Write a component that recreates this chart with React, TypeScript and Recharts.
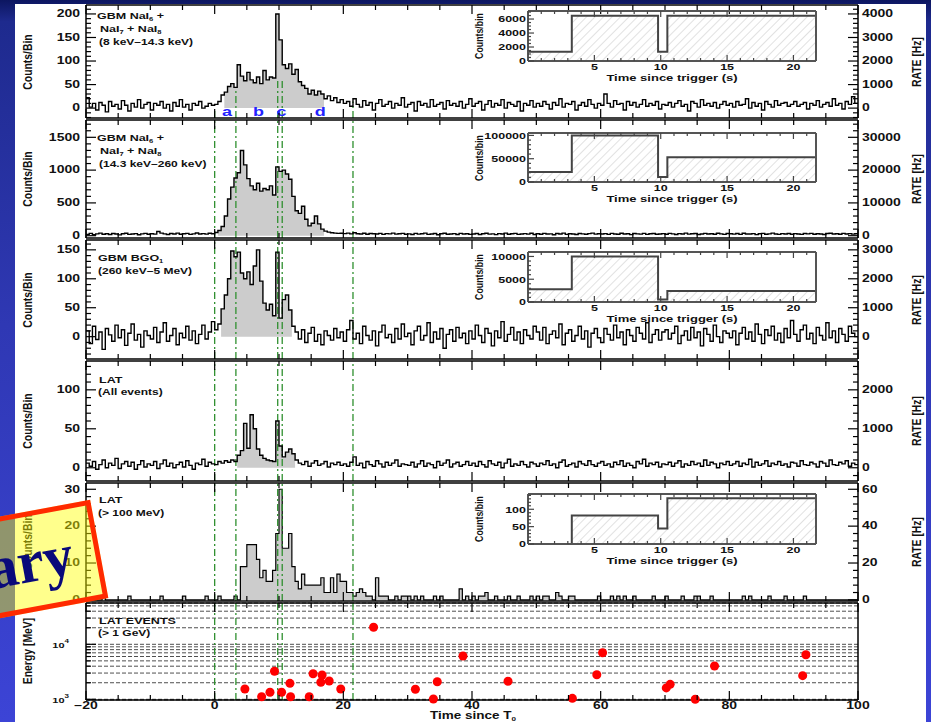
import React from "react";
import {
  ComposedChart,
  ScatterChart,
  Line,
  Area,
  Scatter,
  XAxis,
  YAxis,
  ReferenceLine,
  ReferenceDot,
  CartesianGrid,
} from "recharts";

const FONT = '"Liberation Sans", Arial, Helvetica, sans-serif';
const W = 931;
const PLOT_L = 86;
const PLOT_R = 858;
const FRAME = { stroke: "#000", strokeWidth: 1.5 };

function range(a: number, b: number, step: number) {
  const out: number[] = [];
  for (let k = 0; a + k * step <= b + 1e-9; k++) out.push(+(a + k * step).toFixed(6));
  return out;
}

// time axis (s since trigger)
const T_START = -20;
const T_END = 100;
const BIN = 0.5;
const X_LABELS = [-20, 0, 20, 40, 60, 80, 100];
const X_TICKS = range(-20, 100, 5);

// interval boundaries a..d
const PHASE_EDGES = [0, 3.3, 9.8, 10.5, 21.5];
const PHASE_NAMES = ["a", "b", "c", "d"];
const PHASE_LABEL_T = [1.9, 6.8, 10.4, 16.4];
const PHASE_REACH_P1 = [0, 40, 60, 60, 14];

// counts per 0.5 s bin, -20 s .. 100 s, one row = 10 s
const naiLowCounts = [
  22, 2, 10, -4, 12, 6, -8, 14, 4, 8, -2, 16, 6, -6, 10, 2, 18, 0, 8, 12,
  -4, 10, 6, 14, 0, 8, -6, 12, 4, 18, 2, 8, -4, 10, 6, 14, 0, 4, 10, 6,
  8, 14, 28, 34, 46, 52, 44, 92, 68, 58, 76, 60, 54, 66, 52, 80, 60, 66, 64, 200,
  145, 92, 84, 94, 72, 82, 56, 48, 42, 30, 38, 28, 36, 30, 20, 26, 16, 22, 12, 18,
  10, 14, 4, 20, 8, 2, 16, 6, 12, -4, 10, 18, 4, 8, 14, 0, 10, 6, 22, 2,
  8, 12, -6, 14, 6, 10, 2, 18, 4, 8, 12, -2, 16, 6, 10, 4, 14, 0, 8, 20,
  4, 10, 14, -4, 8, 16, 2, 10, 6, 18, 0, 12, 8, 4, 14, -6, 10, 6, 16, 2,
  10, 4, 14, 8, -2, 12, 6, 20, 2, 10, 8, 14, -4, 6, 12, 4, 18, 8, 0, 10,
  6, 30, 10, 2, 16, 8, 10, -4, 14, 6, 12, 2, 8, 18, 4, 10, 6, 14, -2, 8,
  6, 12, 2, 10, 16, 4, 8, -6, 14, 10, 2, 18, 6, 10, 4, 12, 0, 8, 14, 6,
  10, 2, 14, 6, 8, 20, 0, 12, 4, 10, -4, 14, 8, 2, 16, 6, 10, 12, 4, 8,
  14, 4, 8, 12, -2, 10, 6, 16, 2, 8, 12, 4, 20, 6, 10, -2, 14, 8, 24, 10,
];

const naiHighCounts = [
  20, 35, 15, 28, 40, 22, 30, 18, 34, 25, 12, 30, 38, 20, 26, 32, 15, 28, 36, 22,
  30, 24, 65, 40, 28, 18, 34, 26, 40, 22, 30, 36, 20, 28, 42, 26, 32, 24, 38, 30,
  50, 80, 140, 300, 560, 740, 880, 960, 1300, 1080, 870, 760, 700, 800, 680, 720, 700, 760, 620, 1050,
  980, 1000, 940, 860, 600, 380, 340, 450, 250, 150, 190, 300, 180, 100, 70, 55, 45, 40, 35, 38,
  32, 40, 28, 45, 30, 26, 38, 22, 34, 30, 25, 36, 20, 32, 28, 40, 24, 30, 35, 22,
  28, 18, 35, 24, 30, 40, 20, 26, 33, 15, 29, 37, 22, 27, 31, 19, 36, 25, 30, 21,
  26, 34, 18, 30, 38, 24, 28, 16, 32, 27, 40, 22, 29, 35, 20, 26, 31, 24, 37, 19,
  30, 22, 36, 25, 28, 14, 33, 27, 39, 21, 30, 26, 18, 34, 28, 23, 32, 40, 24, 29,
  25, 31, 20, 35, 27, 22, 38, 26, 30, 17, 33, 28, 24, 36, 21, 29, 34, 23, 27, 31,
  22, 36, 28, 19, 32, 26, 40, 24, 29, 33, 18, 27, 35, 25, 30, 22, 38, 28, 20, 34,
  29, 24, 33, 21, 37, 27, 25, 31, 16, 30, 35, 23, 28, 39, 26, 20, 32, 27, 34, 22,
  31, 26, 20, 34, 28, 36, 23, 30, 27, 19, 33, 38, 25, 29, 22, 35, 26, 31, 24, 30,
];

const bgoCounts = [
  10, -12, 18, -5, 8, -22, 14, 3, -8, 20, -2, 12, -15, 6, 22, -6, 4, -18, 10, 2,
  -4, 16, -10, 8, 24, -8, 2, 14, -14, 6, -2, 18, -6, 10, -12, 4, 20, -4, 8, 26,
  12, 22, 48, 72, 100, 148, 138, 146, 110, 100, 112, 90, 122, 150, 96, 58, 46, 56, 36, 146,
  32, 64, 72, 46, 18, 8, -4, 12, -10, 6, 16, -8, 4, -14, 10, 2, -6, 14, -2, 8,
  -8, 12, 28, -4, 6, -12, 18, 2, -6, 10, -16, 8, 20, -2, 4, -10, 14, -4, 22, 0,
  6, -14, 10, 18, -6, 2, 24, -10, 8, -4, 14, -20, 4, 12, -8, 16, -2, 6, -12, 10,
  -4, 20, 2, -10, 14, 6, -16, 10, -2, 26, -8, 4, 16, -6, 8, -12, 12, 2, -4, 18,
  8, -6, 16, -12, 4, 10, -2, 22, -14, 6, 12, -8, 2, 18, -4, 10, -18, 6, 14, -2,
  -10, 14, 4, -6, 20, -2, 8, -14, 12, 2, -8, 16, 6, -4, 24, -10, 4, 12, -6, 8,
  12, -4, 6, 18, -12, 2, 10, -6, 16, -2, 8, -16, 14, 4, -8, 20, 0, -10, 10, 6,
  -2, 10, -14, 6, 16, -4, 8, -8, 22, 4, -12, 12, 2, 18, -6, 6, -10, 14, -2, 28,
  4, -8, 12, 20, -4, 6, -12, 16, 2, -6, 24, -2, 10, -10, 14, 4, -8, 18, 6, 0,
];

const latAllCounts = [
  6, 2, 8, -2, 4, 10, 0, 6, 3, 12, -1, 5, 8, 2, 7, -2, 4, 9, 1, 5,
  3, 8, -1, 5, 10, 2, 6, 0, 4, 7, 1, 9, 3, -2, 6, 4, 11, 2, 7, 5,
  4, 8, 6, 9, 7, 10, 8, 16, 22, 57, 25, 68, 50, 24, 16, 12, 10, 9, 8, 60,
  28, 14, 20, 24, 18, 10, 6, 4, 8, 2, 6, 9, 3, 5, 8, 1, 6, 4, 7, 3,
  5, 2, 7, 14, 3, 6, 0, 8, 4, 2, 9, 5, 1, 7, 3, 6, 10, 2, 5, 4,
  3, 7, 1, 5, 9, 2, 6, 4, 0, 8, 3, 6, 10, 1, 5, 7, 2, 4, 8, 3,
  6, 2, 8, 4, 1, 9, 5, 3, 7, 0, 6, 11, 2, 5, 3, 8, 4, 1, 7, 5,
  2, 6, 4, 9, 3, 5, 0, 7, 10, 2, 4, 6, 1, 8, 5, 3, 9, 4, 2, 6,
  8, 3, 5, 1, 7, 4, 9, 2, 6, 3, 0, 8, 5, 11, 2, 6, 4, 7, 1, 5,
  4, 7, 2, 6, 9, 1, 5, 3, 8, 4, 6, 2, 10, 3, 7, 5, 0, 6, 4, 8,
  3, 5, 8, 2, 6, 4, 11, 1, 7, 3, 5, 9, 2, 6, 4, 8, 3, 5, 1, 7,
  6, 2, 9, 4, 3, 7, 5, 1, 8, 6, 2, 10, 4, 3, 7, 5, 9, 2, 6, 4,
];

const lat100Counts = [
  0, 0, 0, 0, 0, 1, 0, 0, 0, 0, 0, 0, 0, 1, 0, 0, 0, 0, 0, 0,
  0, 0, 0, 1, 0, 0, 0, 0, 0, 0, 1, 0, 0, 0, 0, 0, 0, 1, 0, 0,
  0, 1, 0, 0, 0, 0, 1, 0, 9, 9, 15, 15, 15, 11, 6, 8, 5, 5, 8, 18,
  30, 14, 14, 18, 9, 5, 3, 7, 4, 4, 4, 4, 4, 6, 2, 2, 6, 2, 7, 5,
  5, 2, 2, 1, 2, 3, 2, 1, 1, 0, 6, 1, 1, 1, 0, 0, 1, 0, 1, 1,
  1, 0, 1, 0, 1, 0, 0, 0, 1, 0, 1, 0, 0, 0, 0, 0, 3, 0, 1, 0,
  1, 0, 1, 1, 2, 0, 0, 1, 0, 0, 0, 1, 0, 0, 1, 0, 0, 0, 1, 0,
  1, 0, 1, 1, 0, 0, 2, 1, 0, 0, 1, 1, 0, 0, 0, 0, 0, 0, 0, 1,
  0, 0, 0, 1, 0, 1, 0, 1, 0, 0, 1, 0, 0, 0, 0, 0, 1, 0, 0, 0,
  1, 0, 0, 0, 0, 1, 0, 0, 0, 1, 1, 0, 0, 0, 1, 0, 0, 0, 0, 0,
  0, 0, 0, 0, 1, 0, 1, 0, 0, 0, 0, 0, 1, 0, 0, 0, 0, 1, 0, 0,
  0, 0, 0, 1, 0, 0, 0, 0, 0, 0, 0, 0, 0, 0, 0, 0, 0, 0, 0, 0,
];

// LAT events above 1 GeV
const eventTimes = [4.7, 7.3, 8.6, 9.3, 10.4, 11.7, 11.8, 14.7, 15.3, 16.7, 16.5, 17.8, 19.6, 24.7, 31.2, 34.0, 34.6, 38.6, 45.6, 55.6, 59.4, 60.3, 70.2, 70.8, 74.7, 77.7, 91.4, 91.9];
const eventEnergies = [1540, 1115, 1340, 3230, 1340, 1950, 1115, 1115, 2920, 2770, 2040, 2150, 1540, 20400, 1520, 1010, 2090, 6130, 2130, 1040, 2800, 7030, 1610, 1870, 1000, 4030, 2690, 6460];
const E_DOMAIN = [971, 56400];
const E_TICKS = [1000, 2000, 3000, 4000, 5000, 6000, 7000, 8000, 9000, 10000, 20000, 30000, 40000, 50000];

// insets: counts per interval
const INSET_EDGES = [0, 3.3, 9.8, 10.5, 21.7];
const insetNaiLow = [1330, 6470, 1330, 6470, 6470];
const insetNaiHigh = [21700, 100000, 10900, 53000, 53000];
const insetBgo = [2820, 10000, 530, 2440, 2440];
const insetLat100 = [0, 82, 45, 132, 132];

type Side = "left" | "right" | "top" | "bottom";
type TickOpts = { fmt?: (v: number) => React.ReactNode; size?: number; gap?: number; stroke?: string; sw?: number };

function makeTick(side: Side, majors: number[], majLen: number, minLen: number, o: TickOpts = {}) {
  const { fmt, size = 14, gap = 6, stroke = "#000", sw = 1.2 } = o;
  return (p: any) => {
    const x = Number(p.x);
    const y = Number(p.y);
    const v = Number(p.payload && p.payload.value);
    const major = majors.some((m) => Math.abs(m - v) < 1e-6);
    const len = major ? majLen : minLen;
    const x2 = side === "left" ? x + len : side === "right" ? x - len : x;
    const y2 = side === "top" ? y + len : side === "bottom" ? y - len : y;
    let tx = x;
    let ty = y;
    let anchor: any = "middle";
    if (side === "left") { tx = x - gap; anchor = "end"; }
    if (side === "right") { tx = x + gap; anchor = "start"; }
    if (side === "bottom") ty = y + gap;
    if (side === "top") ty = y - gap;
    return (
      <g>
        {len > 0 && <line x1={x} y1={y} x2={x2} y2={y2} stroke={stroke} strokeWidth={sw} />}
        {major && fmt && (
          <text
            transform={`translate(${tx},${ty}) scale(1,0.72)`}
            textAnchor={anchor}
            dominantBaseline="central"
            fontFamily={FONT}
            fontWeight="bold"
            fontSize={size}
            fill="#111"
          >
            {fmt(v)}
          </text>
        )}
      </g>
    );
  };
}

const fmtPlain = (v: number) => String(v);
const fmtTime = (v: number) => (v < 0 ? `\u2212${-v}` : String(v));
const fmtPow = (v: number) => (
  <>
    <tspan>10</tspan>
    <tspan dy={-5} fontSize={8}>{Math.round(Math.log10(v))}</tspan>
  </>
);

// axes are 1px thick boxes; the margins below make up for it
const AX = 1;

type PanelSpec = {
  top: number;
  bottom: number;
  counts: number[];
  yDomain: number[];
  yLabels: number[];
  yTicks: number[];
  rateFactor: number;
  rLabels: number[];
  rTicks: number[];
  fillFrom?: number;
  fillTo?: number;
  histogram?: boolean;
  firstPanel?: boolean;
};

function CurvePanel({ spec }: { spec: PanelSpec }) {
  const padT = 14;
  const padB = 14;
  const rows: any[] = spec.counts.map((v, i) => {
    const t = T_START + i * BIN;
    const inFill = spec.fillFrom !== undefined && t >= spec.fillFrom && t < (spec.fillTo as number);
    return { t, v, f: inFill ? v : null };
  });
  rows.push({ t: T_END, v: spec.counts[spec.counts.length - 1], f: null });
  if (spec.fillTo !== undefined) {
    const k = Math.round((spec.fillTo - T_START) / BIN);
    rows[k].f = spec.counts[k - 1];
  }
  const rDomain = [spec.yDomain[0] * spec.rateFactor, spec.yDomain[1] * spec.rateFactor];
  const green = { stroke: "#2f8f2f", strokeWidth: 1.3, strokeDasharray: "7 3 2 3" };

  return (
    <div style={{ position: "absolute", left: 0, top: spec.top - padT }}>
      <ComposedChart
        width={W}
        height={spec.bottom - spec.top + padT + padB}
        data={rows}
        margin={{ top: padT - AX, bottom: padB - AX, left: PLOT_L - AX, right: W - PLOT_R - AX }}
      >
        <XAxis dataKey="t" type="number" domain={[T_START, T_END]} allowDataOverflow ticks={X_TICKS} interval={0}
          height={AX} tickSize={0} tickMargin={0} tickLine={false} axisLine={FRAME} tick={makeTick("bottom", X_LABELS, 9, 5)} />
        <XAxis xAxisId="top" orientation="top" dataKey="t" type="number" domain={[T_START, T_END]} allowDataOverflow
          ticks={X_TICKS} interval={0} height={AX} tickSize={0} tickMargin={0} tickLine={false} axisLine={FRAME}
          tick={makeTick("top", X_LABELS, 9, 5)} />
        <YAxis type="number" domain={spec.yDomain} allowDataOverflow ticks={spec.yTicks} interval={0} width={AX}
          tickSize={0} tickMargin={0} tickLine={false} axisLine={FRAME}
          tick={makeTick("left", spec.yLabels, 10, 5, { fmt: fmtPlain, gap: 6 })} />
        <YAxis yAxisId="rate" orientation="right" type="number" domain={rDomain} allowDataOverflow ticks={spec.rTicks}
          interval={0} width={AX} tickSize={0} tickMargin={0} tickLine={false} axisLine={FRAME}
          tick={makeTick("right", spec.rLabels, 10, 5, { fmt: fmtPlain, gap: 4 })} />
        {spec.histogram ? (
          <Area type="stepAfter" dataKey="v" stroke="#000" strokeWidth={1.2} fill="#cccccc" fillOpacity={1}
            isAnimationActive={false} />
        ) : (
          <Area type="stepAfter" dataKey="f" stroke="none" fill="#cccccc" fillOpacity={1} isAnimationActive={false} />
        )}
        {PHASE_EDGES.map((t, i) =>
          spec.firstPanel ? (
            <ReferenceLine key={i} segment={[{ x: t, y: spec.yDomain[0] }, { x: t, y: PHASE_REACH_P1[i] }]} {...green} />
          ) : (
            <ReferenceLine key={i} x={t} {...green} />
          )
        )}
        {!spec.histogram && (
          <Line type="stepAfter" dataKey="v" stroke="#000" strokeWidth={1.4} dot={false} isAnimationActive={false} />
        )}
        <Line xAxisId="top" yAxisId="rate" dataKey="v" stroke="none" dot={false} activeDot={false} isAnimationActive={false} />
        {spec.firstPanel &&
          PHASE_NAMES.map((n, i) => (
            <ReferenceDot key={n} x={PHASE_LABEL_T[i]} y={-7.5} r={0} fill="none" stroke="none"
              label={(p: any) => (
                <text transform={`translate(${p.viewBox.x},${p.viewBox.y}) scale(1,0.72)`} textAnchor="middle"
                  dominantBaseline="central" fontFamily={FONT} fontWeight="bold" fontSize={18} fill="#2323ff">
                  {n}
                </text>
              )}
            />
          ))}
      </ComposedChart>
    </div>
  );
}

function EventsPanel() {
  const top = 603;
  const bottom = 700;
  const padT = 14;
  const padB = 22;
  const events = eventTimes.map((t, i) => ({ t, e: eventEnergies[i] }));
  const green = { stroke: "#2f8f2f", strokeWidth: 1.3, strokeDasharray: "7 3 2 3" };
  return (
    <div style={{ position: "absolute", left: 0, top: top - padT }}>
      <ScatterChart width={W} height={bottom - top + padT + padB}
        margin={{ top: padT - AX, bottom: padB - AX, left: PLOT_L - AX, right: W - PLOT_R - AX }}>
        <CartesianGrid horizontal vertical={false} stroke="#222" strokeDasharray="4 2" strokeWidth={0.8} />
        <XAxis dataKey="t" type="number" domain={[T_START, T_END]} ticks={X_TICKS} interval={0} height={AX}
          tickSize={0} tickMargin={0} tickLine={false} axisLine={FRAME}
          tick={makeTick("bottom", X_LABELS, 9, 5, { fmt: fmtTime, gap: 6 })} />
        <XAxis xAxisId="top" orientation="top" dataKey="t" type="number" domain={[T_START, T_END]} ticks={X_TICKS}
          interval={0} height={AX} tickSize={0} tickMargin={0} tickLine={false} axisLine={FRAME}
          tick={makeTick("top", X_LABELS, 9, 5)} />
        <YAxis dataKey="e" type="number" scale="log" domain={E_DOMAIN} ticks={E_TICKS} interval={0} width={AX}
          tickSize={0} tickMargin={0} tickLine={false} axisLine={FRAME}
          tick={makeTick("left", [1000, 10000], 10, 5, { fmt: fmtPow, size: 11, gap: 17 })} />
        <YAxis yAxisId="r" orientation="right" dataKey="e" type="number" scale="log" domain={E_DOMAIN} width={AX}
          tick={false} tickLine={false} axisLine={FRAME} />
        {PHASE_EDGES.map((t, i) => (
          <ReferenceLine key={i} x={t} {...green} />
        ))}
        <Scatter data={events} fill="#ff0000" isAnimationActive={false} />
        <Scatter data={events} xAxisId="top" yAxisId="r" shape={() => <g />} isAnimationActive={false} />
      </ScatterChart>
    </div>
  );
}

type InsetSpec = { top: number; bottom: number; values: number[]; yDomain: number[]; yLabels: number[]; yTicks: number[]; id: string };

function Inset({ spec }: { spec: InsetSpec }) {
  const left = 430;
  const width = 400;
  const boxL = 528;
  const boxR = 816;
  const padT = 8;
  const padB = 20;
  const rows = INSET_EDGES.map((t, i) => ({ t, v: spec.values[i] }));
  const xTicks = range(1, 21, 1);
  const frame = { stroke: "#555", strokeWidth: 2 };
  return (
    <div style={{ position: "absolute", left, top: spec.top - padT }}>
      <ComposedChart width={width} height={spec.bottom - spec.top + padT + padB} data={rows}
        margin={{ top: padT - AX, bottom: padB - AX, left: boxL - left - AX, right: left + width - boxR - AX }}>
        <defs>
          <pattern id={spec.id} patternUnits="userSpaceOnUse" width={6} height={6} patternTransform="rotate(45)">
            <line x1={0} y1={0} x2={0} y2={6} stroke="#c4c4c4" strokeWidth={1} />
          </pattern>
        </defs>
        <XAxis dataKey="t" type="number" domain={[0, 21.7]} allowDataOverflow ticks={xTicks} interval={0} height={AX}
          tickSize={0} tickMargin={0} tickLine={false} axisLine={frame}
          tick={makeTick("bottom", [5, 10, 15, 20], 6, 3, { fmt: fmtPlain, size: 12.5, gap: 6, stroke: "#444" })} />
        <XAxis xAxisId="top" orientation="top" dataKey="t" type="number" domain={[0, 21.7]} allowDataOverflow
          ticks={xTicks} interval={0} height={AX} tickSize={0} tickMargin={0} tickLine={false} axisLine={frame}
          tick={makeTick("top", [5, 10, 15, 20], 6, 3, { stroke: "#444" })} />
        <YAxis type="number" domain={spec.yDomain} allowDataOverflow ticks={spec.yTicks} interval={0} width={AX}
          tickSize={0} tickMargin={0} tickLine={false} axisLine={frame}
          tick={makeTick("left", spec.yLabels, 6, 3, { fmt: fmtPlain, size: 12.5, gap: 2, stroke: "#444" })} />
        <YAxis yAxisId="r" orientation="right" type="number" domain={spec.yDomain} allowDataOverflow width={AX}
          tick={false} tickLine={false} axisLine={frame} />
        <Area type="stepAfter" dataKey="v" stroke="#444" strokeWidth={2} fill={`url(#${spec.id})`} fillOpacity={1}
          isAnimationActive={false} />
        <Line xAxisId="top" yAxisId="r" dataKey="v" stroke="none" dot={false} activeDot={false} isAnimationActive={false} />
      </ComposedChart>
    </div>
  );
}

const Sub = ({ children }: any) => (
  <span style={{ fontSize: "0.6em", position: "relative", top: "0.35em" }}>{children}</span>
);

function Txt({ x, y, size = 12.5, color = "#111", center = false, children }: any) {
  return (
    <div
      style={{
        position: "absolute",
        left: x,
        top: y,
        transform: `translate(${center ? "-50%" : "0"}, -50%) scaleY(0.75)`,
        fontFamily: FONT,
        fontWeight: "bold",
        fontSize: size,
        color,
        whiteSpace: "nowrap",
        lineHeight: 1,
      }}
    >
      {children}
    </div>
  );
}

function VTxt({ x, y, size = 13, children }: any) {
  return (
    <div
      style={{
        position: "absolute",
        left: x,
        top: y,
        transform: "translate(-50%, -50%) rotate(-90deg) scaleX(0.8)",
        fontFamily: FONT,
        fontWeight: "bold",
        fontSize: size,
        color: "#111",
        whiteSpace: "nowrap",
        lineHeight: 1,
      }}
    >
      {children}
    </div>
  );
}

const panels: PanelSpec[] = [
  { top: 5, bottom: 118, counts: naiLowCounts, yDomain: [-21, 219], yLabels: [0, 50, 100, 150, 200], yTicks: range(-20, 210, 10),
    rateFactor: 20, rLabels: [0, 1000, 2000, 3000, 4000], rTicks: range(-400, 4200, 200), fillFrom: 1.5, fillTo: 17, firstPanel: true },
  { top: 120, bottom: 238, counts: naiHighCounts, yDomain: [-35, 1764], yLabels: [0, 500, 1000, 1500], yTicks: range(0, 1700, 100),
    rateFactor: 20, rLabels: [0, 10000, 20000, 30000], rTicks: range(0, 34000, 2000), fillFrom: 0.5, fillTo: 17 },
  { top: 240, bottom: 359, counts: bgoCounts, yDomain: [-38.6, 167], yLabels: [0, 50, 100, 150], yTicks: range(-30, 160, 10),
    rateFactor: 20, rLabels: [0, 1000, 2000, 3000], rTicks: range(-600, 3200, 200), fillFrom: 1, fillTo: 12 },
  { top: 361, bottom: 481, counts: latAllCounts, yDomain: [-17, 137], yLabels: [0, 50, 100], yTicks: range(-10, 130, 10),
    rateFactor: 20, rLabels: [0, 1000, 2000], rTicks: range(-200, 2600, 200), fillFrom: 3.5, fillTo: 12.5 },
  { top: 483, bottom: 601, counts: lat100Counts, yDomain: [-0.3, 31.7], yLabels: [0, 10, 20, 30], yTicks: range(0, 30, 2),
    rateFactor: 2, rLabels: [0, 20, 40, 60], rTicks: range(0, 60, 4), histogram: true },
];

const insets: InsetSpec[] = [
  { top: 11, bottom: 61, values: insetNaiLow, yDomain: [0, 7150], yLabels: [0, 2000, 4000, 6000], yTicks: range(0, 7000, 500), id: "hatch1" },
  { top: 133, bottom: 182, values: insetNaiHigh, yDomain: [0, 105200], yLabels: [0, 50000, 100000], yTicks: range(0, 100000, 10000), id: "hatch2" },
  { top: 252, bottom: 302, values: insetBgo, yDomain: [0, 10980], yLabels: [0, 5000, 10000], yTicks: range(0, 10000, 1000), id: "hatch3" },
  { top: 494, bottom: 544, values: insetLat100, yDomain: [0, 144], yLabels: [0, 50, 100], yTicks: range(0, 140, 10), id: "hatch5" },
];

export default function App() {
  const panelCenters = panels.map((p) => (p.top + p.bottom) / 2);
  return (
    <div
      style={{
        position: "relative",
        width: 931,
        height: 722,
        overflow: "hidden",
        background: "linear-gradient(180deg, #0c1660 0%, #1e2a8e 3%, #2f38b4 45%, #3c44d6 100%)",
      }}
    >
      <style>{"body{margin:0}"}</style>
      <div style={{ position: "absolute", left: 15, top: 4, width: 911, height: 718, background: "#fff" }} />

      {panels.map((p, i) => (
        <CurvePanel key={i} spec={p} />
      ))}
      <EventsPanel />
      {insets.map((s) => (
        <Inset key={s.id} spec={s} />
      ))}

      {/* panel captions */}
      <Txt x={97} y={16}>GBM NaI<Sub>6</Sub> +</Txt>
      <Txt x={100} y={29}>NaI<Sub>7</Sub> + NaI<Sub>8</Sub></Txt>
      <Txt x={99} y={42} size={12}>(8 keV–14.3 keV)</Txt>
      <Txt x={97} y={138}>GBM NaI<Sub>6</Sub> +</Txt>
      <Txt x={100} y={151}>NaI<Sub>7</Sub> + NaI<Sub>8</Sub></Txt>
      <Txt x={99} y={164} size={12}>(14.3 keV–260 keV)</Txt>
      <Txt x={98} y={258}>GBM BGO<Sub>1</Sub></Txt>
      <Txt x={98} y={271} size={12}>(260 keV–5 MeV)</Txt>
      <Txt x={99} y={380}>LAT</Txt>
      <Txt x={98} y={392} size={12}>(All events)</Txt>
      <Txt x={99} y={500}>LAT</Txt>
      <Txt x={98} y={513} size={12}>(&gt; 100 MeV)</Txt>
      <Txt x={99} y={621}>LAT EVENTS</Txt>
      <Txt x={98} y={633} size={12}>(&gt; 1 GeV)</Txt>

      {/* axis titles */}
      {panelCenters.map((cy, i) => (
        <VTxt key={"c" + i} x={27} y={cy}>Counts/Bin</VTxt>
      ))}
      {panelCenters.map((cy, i) => (
        <VTxt key={"r" + i} x={916} y={cy}>RATE [Hz]</VTxt>
      ))}
      <VTxt x={27} y={651}>Energy [MeV]</VTxt>
      <Txt x={473} y={716} size={13.5} center>Time since T<Sub>0</Sub></Txt>

      {insets.map((s) => (
        <VTxt key={"iv" + s.id} x={479} y={(s.top + s.bottom) / 2} size={11}>Counts/bin</VTxt>
      ))}
      {insets.map((s) => (
        <Txt key={"ix" + s.id} x={672} y={s.bottom + 17} size={13} center>Time since trigger (s)</Txt>
      ))}

      {/* stamp */}
      <div
        style={{
          position: "absolute",
          left: -228,
          top: 529,
          width: 330,
          height: 100,
          boxSizing: "border-box",
          border: "5px solid #ff2a00",
          background: "rgba(255,255,0,0.45)",
          transform: "rotate(-10.5deg)",
          display: "flex",
          alignItems: "center",
          justifyContent: "flex-end",
          paddingRight: 22,
          fontFamily: '"Liberation Serif", "DejaVu Serif", serif',
          fontWeight: "bold",
          fontSize: 60,
          color: "#0a0a7a",
          whiteSpace: "nowrap",
        }}
      >
        Preliminary
      </div>
    </div>
  );
}
